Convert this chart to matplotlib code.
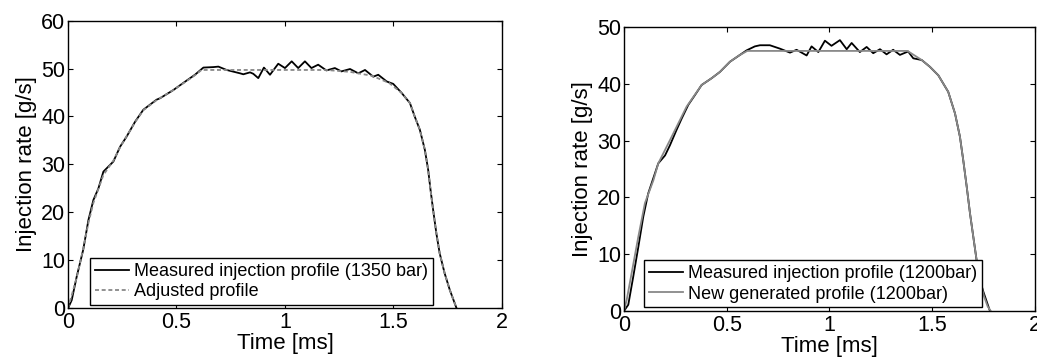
import matplotlib
matplotlib.use("Agg")
import matplotlib.pyplot as plt

plt.rcParams['font.family'] = ['Liberation Sans', 'DejaVu Sans']

# Left panel: 1350 bar rail pressure
t_meas_1350 = [0.0, 0.017, 0.04, 0.07, 0.094, 0.117, 0.14, 0.163, 0.209, 0.24, 0.27,
               0.309, 0.347, 0.408, 0.424, 0.485, 0.547, 0.585, 0.624, 0.67, 0.693,
               0.731, 0.793, 0.808, 0.839, 0.854, 0.877, 0.903, 0.931, 0.969, 1.0,
               1.031, 1.061, 1.092, 1.122, 1.153, 1.191, 1.23, 1.26, 1.30, 1.338,
               1.369, 1.407, 1.43, 1.469, 1.499, 1.538, 1.576, 1.598, 1.622, 1.645,
               1.66, 1.671, 1.683, 1.698, 1.713, 1.736, 1.76, 1.791]
q_meas_1350 = [0.0, 1.7, 6.6, 12.2, 18.4, 22.6, 25.0, 28.5, 30.6, 33.7, 35.8,
               38.9, 41.4, 43.5, 43.8, 45.5, 47.5, 48.7, 50.2, 50.3, 50.4,
               49.7, 49.0, 48.8, 49.2, 48.9, 48.0, 50.2, 48.7, 51.0, 50.1,
               51.5, 50.1, 51.5, 50.1, 50.8, 49.6, 50.1, 49.4, 49.9, 49.0,
               49.7, 48.3, 48.7, 47.3, 46.8, 44.9, 42.8, 40.0, 37.2, 33.0,
               28.9, 24.7, 20.5, 15.6, 11.5, 7.3, 3.8, 0.0]

t_adj_1350 = [0.0, 0.04, 0.07, 0.094, 0.117, 0.14, 0.163, 0.209, 0.24, 0.27, 0.309,
              0.347, 0.408, 0.485, 0.547, 0.585, 0.615, 1.19, 1.30, 1.40, 1.48, 1.538,
              1.576, 1.598, 1.622, 1.645, 1.66, 1.671, 1.683, 1.698, 1.713, 1.736,
              1.76, 1.791]
q_adj_1350 = [0.0, 6.4, 12.4, 17.8, 22.0, 24.9, 27.8, 30.8, 33.6, 35.9, 38.8,
              41.3, 43.4, 45.5, 47.4, 48.6, 49.7, 49.7, 49.3, 48.5, 47.0, 44.9,
              42.8, 40.0, 37.2, 33.0, 28.9, 24.7, 20.5, 15.6, 11.5, 7.3,
              3.8, 0.0]

# Right panel: 1200 bar rail pressure
t_meas_1200 = [0.0, 0.021, 0.045, 0.07, 0.094, 0.118, 0.167, 0.20, 0.224, 0.256, 0.281,
               0.313, 0.345, 0.378, 0.427, 0.467, 0.516, 0.597, 0.637, 0.662, 0.71,
               0.759, 0.808, 0.84, 0.889, 0.913, 0.946, 0.978, 1.01, 1.051, 1.084,
               1.108, 1.148, 1.181, 1.213, 1.246, 1.278, 1.31, 1.343, 1.383, 1.408,
               1.449, 1.489, 1.53, 1.578, 1.611, 1.635, 1.651, 1.668, 1.684, 1.70,
               1.716, 1.732, 1.749, 1.781]
q_meas_1200 = [0.0, 1.1, 6.0, 11.3, 16.6, 20.7, 26.0, 27.4, 29.2, 31.9, 33.9,
               36.3, 38.0, 39.8, 41.0, 42.1, 43.9, 45.9, 46.6, 46.8, 46.8,
               46.2, 45.5, 46.0, 45.0, 46.6, 45.6, 47.6, 46.7, 47.7, 46.1,
               47.2, 45.6, 46.5, 45.4, 46.1, 45.2, 46.0, 45.1, 45.7, 44.5,
               44.2, 43.0, 41.5, 38.6, 34.8, 30.7, 26.6, 21.9, 17.2, 13.1,
               9.0, 5.5, 3.4, 0.0]

t_gen_1200 = [0.0, 0.013, 0.037, 0.07, 0.102, 0.143, 0.167, 0.224, 0.305, 0.378, 0.427,
              0.467, 0.516, 0.56, 0.60, 1.38, 1.449, 1.489, 1.53, 1.578, 1.611, 1.635,
              1.651, 1.668, 1.684, 1.70, 1.716, 1.732, 1.752, 1.77, 1.785]
q_gen_1200 = [0.0, 1.9, 6.6, 13.1, 19.0, 23.0, 26.0, 30.1, 36.0, 39.8, 41.0,
              42.1, 43.9, 45.0, 45.8, 45.8, 44.2, 43.0, 41.5, 38.6, 34.8, 30.7,
              26.6, 21.9, 17.2, 13.1, 9.0, 5.6, 2.6, 0.8, 0.0]

x_ticks = [0, 0.5, 1, 1.5, 2]
x_tick_labels = ['0', '0.5', '1', '1.5', '2']

fig = plt.figure(figsize=(10.37, 3.61), dpi=100)
ax1 = fig.add_axes([0.0656, 0.146, 0.4184, 0.797])
ax2 = fig.add_axes([0.6017, 0.1385, 0.3963, 0.7865])

tick_fs = 15.5
label_fs = 16
legend_fs = 13


def style(ax, ymax, ystep):
    ax.set_xlim(0, 2)
    ax.set_ylim(0, ymax)
    ax.set_xticks(x_ticks)
    ax.set_xticklabels(x_tick_labels)
    ax.set_yticks(range(0, ymax + 1, ystep))
    ax.tick_params(direction='in', top=True, right=True, length=3.5, width=0.8,
                   labelsize=tick_fs)
    ax.tick_params(axis='x', pad=3)
    ax.tick_params(axis='y', pad=2)
    for s in ax.spines.values():
        s.set_linewidth(1.0)
    ax.set_xlabel('Time [ms]', fontsize=label_fs, labelpad=0)
    ax.set_ylabel('Injection rate [g/s]', fontsize=label_fs, labelpad=3)


def add_legend(ax, anchor):
    leg = ax.legend(loc='lower left', bbox_to_anchor=anchor, fontsize=legend_fs,
                    frameon=True, fancybox=False, edgecolor='black', framealpha=1,
                    handlelength=1.9, handletextpad=0.3, borderpad=0.25,
                    labelspacing=0.2, borderaxespad=0)
    leg.get_frame().set_linewidth(1.0)
    return leg


ax1.plot(t_meas_1350, q_meas_1350, color='black', lw=1.3,
         label='Measured injection profile (1350 bar)')
ax1.plot(t_adj_1350, q_adj_1350, color='#888888', lw=1.3, ls=(0, (2.2, 1.5)),
         label='Adjusted profile')
style(ax1, 60, 10)
add_legend(ax1, (0.051, 0.0115))

ax2.plot(t_meas_1200, q_meas_1200, color='black', lw=1.3,
         label='Measured injection profile (1200bar)')
ax2.plot(t_gen_1200, q_gen_1200, color='#888888', lw=1.3,
         label='New generated profile (1200bar)')
style(ax2, 50, 10)
add_legend(ax2, (0.049, 0.014))

fig.savefig('out.png', dpi=100)
